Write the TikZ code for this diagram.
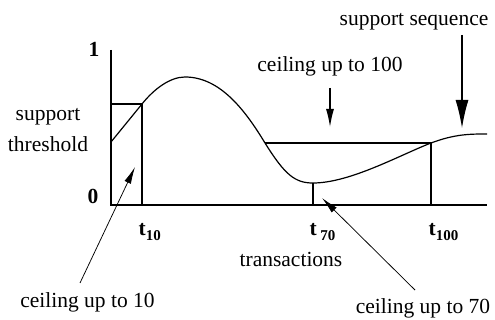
\documentclass[tikz,border=0pt]{standalone}
\usepackage{fontspec}
\setmainfont{Liberation Serif}
\usetikzlibrary{arrows.meta}

\newcommand{\tlab}[1]{\textbf{t}\raisebox{-0.45ex}{\fontsize{15}{15}\selectfont\textbf{#1}}}

\begin{document}
\begin{tikzpicture}[x=1pt, y=-1pt, line width=1.2pt,
    font=\fontsize{21.5}{31}\selectfont,
    lbl/.style={inner sep=0pt, anchor=base},
    tick/.style={inner sep=0pt, anchor=base west, font=\fontsize{21.5}{31}\selectfont\bfseries},
    thinarrow/.style={line width=0.75pt, -{Latex[length=17pt, width=7pt]}},
    downarrow/.style={line width=1.2pt, -{Latex[length=18pt, width=8pt]}},
    bigarrow/.style={line width=1.2pt, -{Latex[length=28pt, width=13pt]}}]
    \useasboundingbox (0,0) rectangle (495,320);

    % axes
    \coordinate (top) at (111,50);
    \coordinate (orig) at (111,205);
    \coordinate (xend) at (487,205);
    \draw (top) -- (orig) -- (xend);
    \node[lbl, font=\fontsize{21.5}{31}\selectfont\bfseries] (one) at (94,57) {1};
    \node[lbl, font=\fontsize{21.5}{31}\selectfont\bfseries] (zero) at (93,204) {0};
    \node[lbl] (thr) at (48,121) {support};
    \node[lbl] (thr2) at (48,152) {threshold};

    % support sequence
    \coordinate (s0) at (111,142);
    \coordinate (s10) at (142,104);
    \coordinate (s70) at (313,183);
    \coordinate (s100) at (431,143);
    \draw (s0) -- (s10)
        .. controls (154,89) and (170,77) .. (185,77)
        .. controls (220,77) and (245,110) .. (265,143)
        .. controls (285,175) and (295,183) .. (s70)
        .. controls (350,183) and (400,155) .. (s100)
        .. controls (455,134) and (470,134) .. (487,134);

    % ceilings
    \draw (111,104) -- (s10) -- (142,205);
    \draw (s70) -- (313,205);
    \draw (265,143) -- (s100) -- (431,205);

    % axis labels
    \node[tick] (t10) at (138,236) {\tlab{10}};
    \node[tick] (t70) at (309,236) {t\,\raisebox{-0.45ex}{\fontsize{15}{15}\selectfont\textbf{70}}};
    \node[tick] (t100) at (428,236) {\tlab{100}};
    \node[lbl] (trans) at (291,267) {transactions};

    % annotations
    \node[lbl] (c10) at (87.5,307) {ceiling up to 10};
    \node[lbl] (c70) at (423,313) {ceiling up to 70};
    \node[lbl] (c100) at (330,72) {ceiling up to 100};
    \node[lbl] (seq) at (414,26) {support sequence};

    \coordinate (a10) at (80,283);
    \coordinate (h10) at (135,167);
    \coordinate (a70) at (415,290);
    \coordinate (h70) at (322,198);
    \coordinate (a100) at (330,88);
    \coordinate (h100) at (330,127);
    \coordinate (aseq) at (462,35);
    \coordinate (hseq) at (462,128);
    \draw[thinarrow] (a10) -- (h10);
    \draw[thinarrow] (a70) -- (h70);
    \draw[downarrow] (a100) -- (h100);
    \draw[bigarrow] (aseq) -- (hseq);
\end{tikzpicture}
\end{document}
